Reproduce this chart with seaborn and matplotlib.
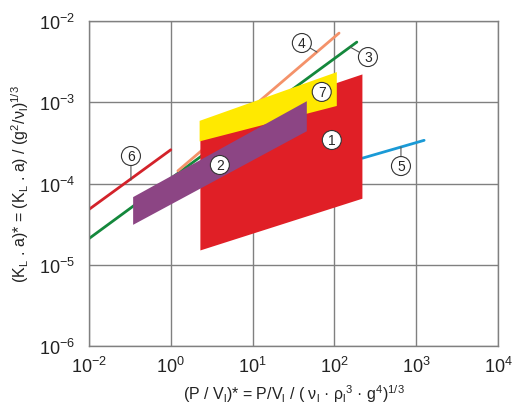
import numpy as np
import pandas as pd
import matplotlib
matplotlib.use("Agg")
import matplotlib.pyplot as plt
import matplotlib.ticker as mticker
import seaborn as sns

# regions (corner points)
red_x = [2.3, 220, 220, 2.3]
red_y = [4.7e-4, 2.2e-3, 6.5e-5, 1.5e-5]
yellow_x = [2.25, 107, 107, 2.25]
yellow_y = [5.9e-4, 2.35e-3, 9.0e-4, 3.3e-4]
purple_x = [0.12, 46, 46, 0.12]
purple_y = [6.8e-5, 1.03e-3, 4.4e-4, 3.1e-5]

# correlation lines
line3_x = [0.01, 188]
line3_y = [2.1e-5, 5.5e-3]
line4_x = [1.22, 114]
line4_y = [1.43e-4, 7.1e-3]
line5_x = [220, 1250]
line5_y = [2.05e-4, 3.4e-4]
line6_x = [0.01, 1.0]
line6_y = [4.8e-5, 2.6e-4]

# circled labels: text position and where the leader touches
label_names = ["1", "2", "3", "4", "5", "6", "7"]
label_x = [93, 3.98, 257, 40, 651, 0.106, 70]
label_y = [3.43e-4, 1.69e-4, 3.6e-3, 5.36e-3, 1.64e-4, 2.18e-4, 1.34e-3]
leader_x = [None, None, 155, 61, 651, 0.106, None]
leader_y = [None, None, 4.79e-3, 4.15e-3, 2.81e-4, 1.10e-4, None]

xticks = [1e-2, 1e0, 1e1, 1e2, 1e3, 1e4]
yticks = [1e-6, 1e-5, 1e-4, 1e-3, 1e-2]

sns.set_theme(style="white")
plt.rcParams["font.family"] = ["Liberation Sans", "DejaVu Sans"]
plt.rcParams["mathtext.fontset"] = "custom"
plt.rcParams["mathtext.rm"] = "Liberation Sans"
plt.rcParams["mathtext.it"] = "Liberation Sans"

fig, ax = plt.subplots(figsize=(5.18, 4.14), dpi=100)
fig.subplots_adjust(left=89/518, right=498/518, top=1-22/414, bottom=1-347/414)


# the original x axis squeezes 10^-2..10^0 into one grid cell
def fwd(x):
    with np.errstate(divide="ignore", invalid="ignore"):
        lx = np.log10(np.asarray(x, dtype=float))
    return np.where(lx >= 0, lx, lx / 2)


def inv(u):
    u = np.asarray(u, dtype=float)
    return np.where(u >= 0, 10.0 ** u, 10.0 ** (2 * u))


ax.set_xscale("function", functions=(fwd, inv))
ax.set_yscale("log")
ax.set_xlim(1e-2, 1e4)
ax.set_ylim(1e-6, 1e-2)

ax.fill(red_x, red_y, color="#e01f26", lw=0, zorder=3)
ax.fill(yellow_x, yellow_y, color="#ffe900", lw=0, zorder=4)
ax.fill(purple_x, purple_y, color="#8c4584", lw=0, zorder=5)

lines = pd.DataFrame({
    "x": line3_x + line4_x + line5_x + line6_x,
    "y": line3_y + line4_y + line5_y + line6_y,
    "id": ["3"] * 2 + ["4"] * 2 + ["5"] * 2 + ["6"] * 2,
})
pal = {"3": "#14883c", "4": "#f4926a", "5": "#1a9ad6", "6": "#d3222a"}
sns.lineplot(data=lines, x="x", y="y", hue="id", palette=pal, units="id",
             estimator=None, sort=False, lw=2, legend=False, ax=ax, zorder=2)

for name, tx, ty, lx, ly in zip(label_names, label_x, label_y, leader_x, leader_y):
    box = dict(boxstyle="circle,pad=0.18", fc="white", ec="#333333", lw=0.8)
    if lx is None:
        ax.text(tx, ty, name, ha="center", va="center", fontsize=10,
                bbox=box, zorder=8)
    else:
        ax.annotate(name, xy=(lx, ly), xytext=(tx, ty), ha="center", va="center",
                    fontsize=10, bbox=box, zorder=8,
                    arrowprops=dict(arrowstyle="-", color="#555555", lw=0.8,
                                    shrinkA=0, shrinkB=0))

ax.set_xticks(xticks)
ax.set_yticks(yticks)
ax.xaxis.set_minor_locator(mticker.NullLocator())
ax.yaxis.set_minor_locator(mticker.NullLocator())
fmt = mticker.FuncFormatter(lambda v, p: r"$10^{%d}$" % int(round(np.log10(v))))
ax.xaxis.set_major_formatter(fmt)
ax.yaxis.set_major_formatter(fmt)
ax.tick_params(axis="both", length=0, labelsize=13, colors="#222222")
ax.tick_params(axis="x", pad=7)
ax.tick_params(axis="y", pad=10)
ax.grid(True, color="#808080", lw=1)
for s in ax.spines.values():
    s.set_color("#808080")
    s.set_linewidth(1)

ax.set_xlabel(r"(P / V$_\mathregular{l}$)* = P/V$_\mathregular{l}$ / ( ν$_\mathregular{l}$ · ρ$_\mathregular{l}$$^\mathregular{3}$ · g$^\mathregular{4}$)$^\mathregular{1/3}$",
              fontsize=11.5, color="#222222", labelpad=5)
ax.set_ylabel(r"(K$_\mathregular{L}$ . a)* = (K$_\mathregular{L}$ . a) / (g$^\mathregular{2}$/ν$_\mathregular{l}$)$^\mathregular{1/3}$",
              fontsize=11.5, color="#222222", labelpad=6)

fig.savefig("out.png", dpi=100)
